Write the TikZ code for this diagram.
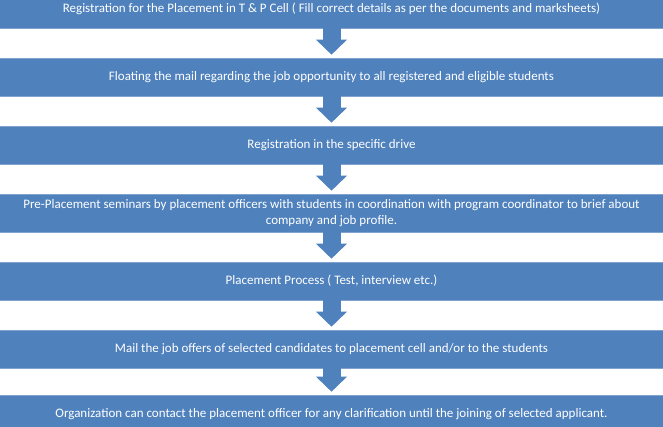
\documentclass[tikz,border=0pt]{standalone}
\usepackage{fontspec}
\setmainfont{Carlito}
\usetikzlibrary{arrows.meta}
\definecolor{barblue}{HTML}{4F81BD}
\definecolor{baredge}{HTML}{7FA2CF}
\begin{document}
\begin{tikzpicture}[x=1pt,y=-1pt,
  bar/.style={fill=barblue, draw=baredge, line width=0.6pt, minimum width=680pt,
    minimum height=38pt, inner sep=0pt, text=white, align=center,
    font=\fontsize{13}{15.5}\selectfont},
  flow/.style={draw=barblue, line width=18pt, shorten >=3pt,
    -{Triangle[width=30pt,length=15pt]}}]
\clip (0,0) rectangle (663,426);
\fill[white] (0,0) rectangle (663,426);
\node[bar] (b1) at (331.5,9) {Registration for the Placement in T \& P Cell ( Fill correct details as per the documents and marksheets)};
\node[bar] (b2) at (331.5,77) {Floating the mail regarding the job opportunity to all registered and eligible students};
\node[bar] (b3) at (331.5,145) {Registration in the specific drive};
\node[bar] (b4) at (331.5,213) {Pre-Placement seminars by placement officers with students in coordination with program coordinator to brief about\\company and job profile.};
\node[bar] (b5) at (331.5,281) {Placement Process ( Test, interview etc.)};
\node[bar] (b6) at (331.5,349) {Mail the job offers of selected candidates to placement cell and/or to the students};
\node[bar] (b7) at (331.5,414) {Organization can contact the placement officer for any clarification until the joining of selected applicant.};
\draw[flow] (b1.south) -- (b2.north);
\draw[flow] (b2.south) -- (b3.north);
\draw[flow] (b3.south) -- (b4.north);
\draw[flow] (b4.south) -- (b5.north);
\draw[flow] (b5.south) -- (b6.north);
\draw[flow] (b6.south) -- (b7.north);
\end{tikzpicture}
\end{document}
